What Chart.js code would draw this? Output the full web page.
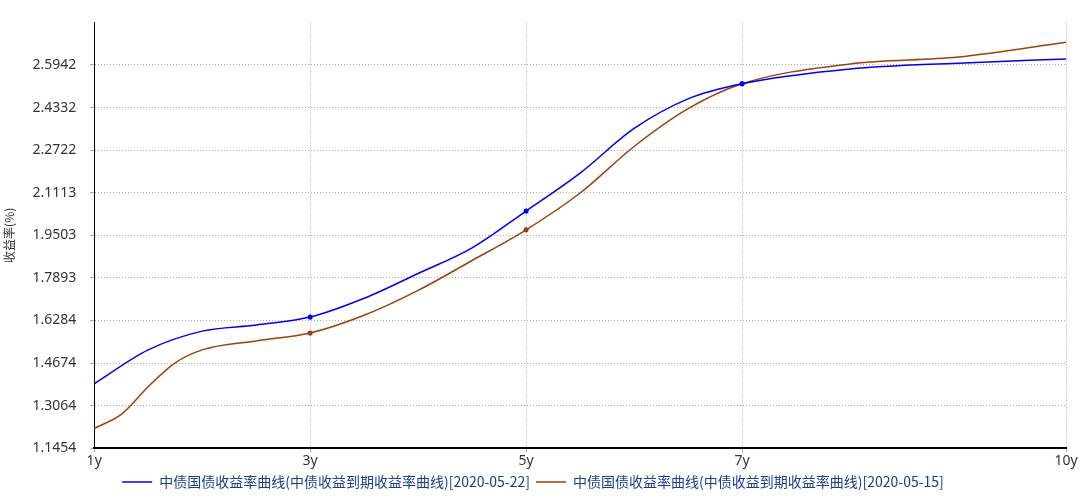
<!DOCTYPE html>
<html><head><meta charset="utf-8">
<script src="https://cdn.jsdelivr.net/npm/chart.js@4/dist/chart.umd.min.js"></script>
<style>html,body{margin:0;padding:0;background:#fff}#w{width:1080px;height:499px}</style>
</head><body><div id="w"><canvas id="c"></canvas></div>
<script>
const blueX = [1,1.5,2,2.5,3,3.5,4,4.5,5,5.5,6,6.5,7,8,9,10];
const blueY = [1.389,1.517,1.588,1.611,1.641,1.712,1.806,1.903,2.042,2.185,2.354,2.466,2.523,2.579,2.601,2.617];
const brownX = [1,1.25,1.5,1.75,2,2.5,3,3.5,4,4.5,5,5.5,6,6.5,7,8,9,10];
const brownY = [1.220,1.273,1.378,1.468,1.517,1.551,1.581,1.648,1.742,1.855,1.971,2.110,2.286,2.429,2.523,2.598,2.624,2.680];
const markerTenors = [3,5,7];
const xTicks = [1,3,5,7,10];
const yTicks = [1.1454,1.3064,1.4674,1.6284,1.7893,1.9503,2.1113,2.2722,2.4332,2.5942];
const names = ['中债国债收益率曲线(中债收益到期收益率曲线)[2020-05-22]','中债国债收益率曲线(中债收益到期收益率曲线)[2020-05-15]'];
const pts=(xs,ys)=>xs.map((x,i)=>({x,y:ys[i]}));
const rad=(ctx)=>markerTenors.includes(ctx.raw&&ctx.raw.x)?1.8:0;
new Chart(document.getElementById('c'),{type:'line',
data:{datasets:[
{label:names[0],data:pts(blueX,blueY),borderColor:'#0000ee',backgroundColor:'#0000ee',borderWidth:1.5,cubicInterpolationMode:'monotone',pointRadius:rad},
{label:names[1],data:pts(brownX,brownY),borderColor:'#a0400a',backgroundColor:'#a0400a',borderWidth:1.5,cubicInterpolationMode:'monotone',pointRadius:rad}]},
options:{responsive:true,maintainAspectRatio:false,animation:false,
layout:{padding:{top:0,right:14,left:0,bottom:0}},
plugins:{legend:{position:'bottom',labels:{boxWidth:30,boxHeight:0,color:'#1a3d8f',font:{family:'Noto Sans CJK SC',size:14},padding:6}},tooltip:{enabled:false}},
scales:{
x:{type:'linear',min:1,max:10,afterBuildTicks:a=>{a.ticks=xTicks.map(v=>({value:v}))},
ticks:{callback:v=>v+'y',color:'#333',font:{size:14,family:'Noto Sans'},maxRotation:0,padding:0},
grid:{color:'#aaa',tickLength:4},border:{color:'#000',width:2,dash:[1,2]}},
y:{min:1.1454,max:2.755,afterBuildTicks:a=>{a.ticks=yTicks.map(v=>({value:v}))},
ticks:{callback:v=>v.toFixed(4),color:'#333',font:{size:14,family:'Noto Sans'},padding:14},
title:{display:true,text:'收益率(%)',font:{size:12,family:'Noto Sans CJK SC'},color:'#333',padding:2},
grid:{color:'#aaa',tickLength:4},border:{color:'#000',width:1,dash:[1,2]}}}}});
</script></body></html>
